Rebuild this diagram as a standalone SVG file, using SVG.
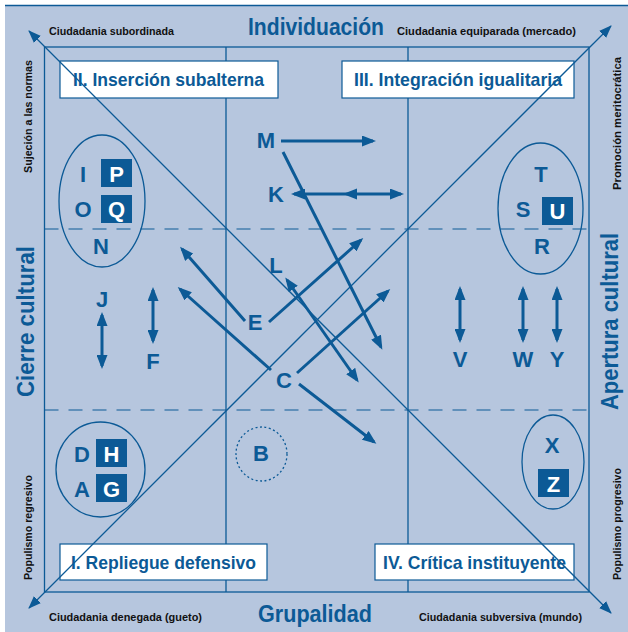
<svg xmlns="http://www.w3.org/2000/svg" width="628" height="632" viewBox="0 0 628 632">
<defs>
<style>
.t{font-family:"Liberation Sans",Arial,sans-serif;font-weight:bold}
.big{fill:#0c5a96;font-size:24px}
.sm{fill:#111;font-size:11px}
.qt{fill:#0c5a96;font-size:19px}
.lt{fill:#0c5a96;font-size:22px;text-anchor:middle}
.wl{fill:#fff;font-size:22px;text-anchor:middle}
.box{fill:#0c5a96}
.qb{fill:#fff;stroke:#0c5a96;stroke-width:1.2}
.grid{fill:none;stroke:#0c5a96;stroke-width:1.3}
.dash{fill:none;stroke:#0c5a96;stroke-width:1.2;stroke-dasharray:14 10}
.ell{fill:none;stroke:#0c5a96;stroke-width:1.3}
.thick{fill:none;stroke:#0c5a96;stroke-width:3;marker-end:url(#ah)}
.dbl{fill:none;stroke:#0c5a96;stroke-width:3;marker-end:url(#ah);marker-start:url(#ah)}
.diag{fill:none;stroke:#0c5a96;stroke-width:1.3;marker-end:url(#ahs);marker-start:url(#ahs)}
</style>
<marker id="ah" viewBox="0 0 14 11" markerWidth="14" markerHeight="11" refX="11" refY="5.5" markerUnits="userSpaceOnUse" orient="auto-start-reverse"><path d="M0,0 L14,5.5 L0,11 z" fill="#0c5a96"/></marker>
<marker id="ahs" viewBox="0 0 13 10" markerWidth="13" markerHeight="10" refX="12" refY="5" markerUnits="userSpaceOnUse" orient="auto-start-reverse"><path d="M0,0 L13,5 L0,10 z" fill="#0c5a96"/></marker>
</defs>
<rect x="0" y="0" width="628" height="632" fill="#fff"/>
<rect x="5" y="5" width="623" height="627" fill="#b6c6de"/>
<line x1="5" y1="5.5" x2="628" y2="5.5" stroke="#0c5a96" stroke-width="1.5"/>

<g id="grid">
<rect class="grid" x="44.5" y="47" width="544.5" height="545"/>
<line class="grid" x1="226" y1="47" x2="226" y2="592"/>
<line class="grid" x1="408" y1="47" x2="408" y2="592"/>
<line class="dash" x1="44.5" y1="229" x2="589" y2="229"/>
<line class="dash" x1="44.5" y1="410" x2="589" y2="410"/>
</g>

<g id="axis-labels">
<text class="t big" x="316" y="35" text-anchor="middle" textLength="136" lengthAdjust="spacingAndGlyphs">Individuación</text>
<text class="t big" x="315" y="622" text-anchor="middle" textLength="114" lengthAdjust="spacingAndGlyphs">Grupalidad</text>
<text class="t big" transform="translate(34,321.5) rotate(-90)" text-anchor="middle" textLength="151" lengthAdjust="spacingAndGlyphs">Cierre cultural</text>
<text class="t big" transform="translate(618,321.5) rotate(-90)" text-anchor="middle" textLength="177" lengthAdjust="spacingAndGlyphs">Apertura cultural</text>
<text class="t sm" x="49" y="35" textLength="125" lengthAdjust="spacingAndGlyphs">Ciudadania subordinada</text>
<text class="t sm" x="397" y="35" textLength="179" lengthAdjust="spacingAndGlyphs">Ciudadania equiparada (mercado)</text>
<text class="t sm" x="49" y="621" textLength="153" lengthAdjust="spacingAndGlyphs">Ciudadania denegada (gueto)</text>
<text class="t sm" x="419" y="621" textLength="163" lengthAdjust="spacingAndGlyphs">Ciudadania subversiva (mundo)</text>
<text class="t sm" transform="translate(32,116.5) rotate(-90)" text-anchor="middle" textLength="113" lengthAdjust="spacingAndGlyphs">Sujeción a las normas</text>
<text class="t sm" transform="translate(32,527.5) rotate(-90)" text-anchor="middle" textLength="105" lengthAdjust="spacingAndGlyphs">Populismo regresivo</text>
<text class="t sm" transform="translate(621,123.5) rotate(-90)" text-anchor="middle" textLength="133" lengthAdjust="spacingAndGlyphs">Promoción meritocrática</text>
<text class="t sm" transform="translate(621,524) rotate(-90)" text-anchor="middle" textLength="112" lengthAdjust="spacingAndGlyphs">Populismo progresivo</text>
</g>

<g id="q2">
<rect class="qb" x="60" y="61" width="218" height="37"/>
<text class="t qt" x="73" y="86" textLength="191" lengthAdjust="spacingAndGlyphs">II. Inserción subalterna</text>
</g>
<g id="q3">
<rect class="qb" x="342" y="61" width="232" height="37"/>
<text class="t qt" x="354" y="86" textLength="208" lengthAdjust="spacingAndGlyphs">III. Integración igualitaria</text>
</g>
<g id="q1">
<rect class="qb" x="60" y="544" width="207" height="36"/>
<text class="t qt" x="71" y="569" textLength="185" lengthAdjust="spacingAndGlyphs">I. Repliegue defensivo</text>
</g>
<g id="q4">
<rect class="qb" x="375" y="544" width="199" height="36"/>
<text class="t qt" x="383" y="569" textLength="183" lengthAdjust="spacingAndGlyphs">IV. Crítica instituyente</text>
</g>

<g id="connectors">
<line class="diag" x1="29" y1="31" x2="611" y2="613"/>
<line class="diag" x1="29" y1="608" x2="611" y2="26"/>
<line class="thick" x1="281" y1="141" x2="373" y2="141"/>
<line class="thick" x1="283" y1="152" x2="381" y2="347"/>
<line class="dbl" x1="294" y1="194" x2="401" y2="194"/>
<path d="M343,194 L357,188.5 L357,199.5 z" fill="#0c5a96"/>
<line class="dbl" x1="287" y1="280" x2="357" y2="380"/>
<line class="thick" x1="269" y1="322" x2="361" y2="240"/>
<line class="thick" x1="245" y1="321" x2="182" y2="249"/>
<line class="thick" x1="297" y1="373" x2="388" y2="291"/>
<line class="thick" x1="299" y1="384" x2="374" y2="442"/>
<line class="thick" x1="271" y1="370" x2="180" y2="289"/>
<line class="dbl" x1="102" y1="315" x2="102" y2="366"/>
<line class="dbl" x1="153" y1="290" x2="153" y2="341"/>
<line class="dbl" x1="460" y1="289" x2="460" y2="340"/>
<line class="dbl" x1="523" y1="289" x2="523" y2="340"/>
<line class="dbl" x1="557" y1="289" x2="557" y2="340"/>
</g>

<g id="cluster-IOPQN">
<ellipse class="ell" cx="102" cy="201" rx="43" ry="66"/>
<text class="t lt" x="83" y="182">I</text>
<text class="t lt" x="83" y="217">O</text>
<rect class="box" x="101" y="159" width="31" height="28"/>
<text class="t wl" x="116.5" y="182">P</text>
<rect class="box" x="101" y="195" width="31" height="28"/>
<text class="t wl" x="116.5" y="217">Q</text>
<text class="t lt" x="101" y="254">N</text>
</g>
<g id="cluster-TSUR">
<ellipse class="ell" cx="540.5" cy="208.5" rx="42.5" ry="65.5"/>
<text class="t lt" x="541" y="182">T</text>
<text class="t lt" x="523" y="217">S</text>
<rect class="box" x="542" y="197" width="31" height="28"/>
<text class="t wl" x="557.5" y="219">U</text>
<text class="t lt" x="542" y="254">R</text>
</g>
<g id="cluster-DHAG">
<ellipse class="ell" cx="100.5" cy="469.5" rx="44.5" ry="47.5"/>
<text class="t lt" x="82" y="462">D</text>
<rect class="box" x="96" y="439" width="31" height="28"/>
<text class="t wl" x="111.5" y="462">H</text>
<text class="t lt" x="82" y="497">A</text>
<rect class="box" x="96" y="474" width="31" height="28"/>
<text class="t wl" x="111.5" y="497">G</text>
</g>
<g id="node-B">
<ellipse cx="261.5" cy="454" rx="25.5" ry="27" fill="none" stroke="#0c5a96" stroke-width="1.3" stroke-dasharray="2 2.5"/>
<text class="t lt" x="261" y="461">B</text>
</g>
<g id="cluster-XZ">
<ellipse class="ell" cx="553" cy="462" rx="31" ry="47"/>
<text class="t lt" x="552" y="453">X</text>
<rect class="box" x="538" y="469" width="31" height="28"/>
<text class="t wl" x="553.5" y="492">Z</text>
</g>
<g id="labels">
<text class="t lt" x="102" y="307">J</text>
<text class="t lt" x="153" y="369">F</text>
<text class="t lt" x="460" y="367">V</text>
<text class="t lt" x="523" y="367">W</text>
<text class="t lt" x="557" y="367">Y</text>
<text class="t lt" x="266" y="148">M</text>
<text class="t lt" x="276" y="202">K</text>
<text class="t lt" x="276" y="273">L</text>
<text class="t lt" x="255" y="330">E</text>
<text class="t lt" x="284" y="388">C</text>
</g>
</svg>
